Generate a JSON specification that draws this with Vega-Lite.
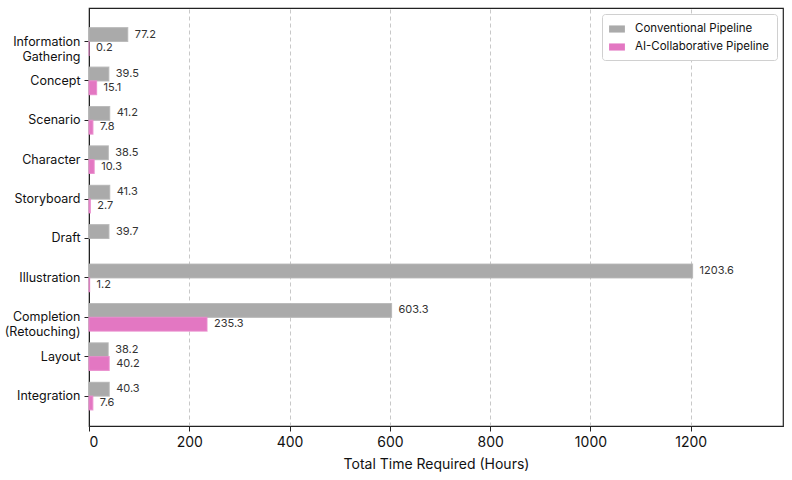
{
  "$schema": "https://vega.github.io/schema/vega-lite/v6.json",
  "width": 694,
  "height": 418,
  "autosize": {"type": "none"},
  "padding": {"left": 89, "top": 8, "right": 9, "bottom": 54},
  "background": "white",
  "config": {
    "font": "Inter",
    "view": {"stroke": "#222", "strokeWidth": 1.2},
    "axis": {"labelFont": "Inter", "titleFont": "Inter", "labelColor": "#111", "titleColor": "#111"}
  },
  "data": {
    "values": [
      {"stage": "Information|Gathering", "pipeline": "Conventional Pipeline", "hours": 77.2},
      {"stage": "Information|Gathering", "pipeline": "AI-Collaborative Pipeline", "hours": 0.2},
      {"stage": "Concept", "pipeline": "Conventional Pipeline", "hours": 39.5},
      {"stage": "Concept", "pipeline": "AI-Collaborative Pipeline", "hours": 15.1},
      {"stage": "Scenario", "pipeline": "Conventional Pipeline", "hours": 41.2},
      {"stage": "Scenario", "pipeline": "AI-Collaborative Pipeline", "hours": 7.8},
      {"stage": "Character", "pipeline": "Conventional Pipeline", "hours": 38.5},
      {"stage": "Character", "pipeline": "AI-Collaborative Pipeline", "hours": 10.3},
      {"stage": "Storyboard", "pipeline": "Conventional Pipeline", "hours": 41.3},
      {"stage": "Storyboard", "pipeline": "AI-Collaborative Pipeline", "hours": 2.7},
      {"stage": "Draft", "pipeline": "Conventional Pipeline", "hours": 39.7},
      {"stage": "Illustration", "pipeline": "Conventional Pipeline", "hours": 1203.6},
      {"stage": "Illustration", "pipeline": "AI-Collaborative Pipeline", "hours": 1.2},
      {"stage": "Completion|(Retouching)", "pipeline": "Conventional Pipeline", "hours": 603.3},
      {"stage": "Completion|(Retouching)", "pipeline": "AI-Collaborative Pipeline", "hours": 235.3},
      {"stage": "Layout", "pipeline": "Conventional Pipeline", "hours": 38.2},
      {"stage": "Layout", "pipeline": "AI-Collaborative Pipeline", "hours": 40.2},
      {"stage": "Integration", "pipeline": "Conventional Pipeline", "hours": 40.3},
      {"stage": "Integration", "pipeline": "AI-Collaborative Pipeline", "hours": 7.6}
    ]
  },
  "encoding": {
    "y": {
      "field": "stage",
      "type": "nominal",
      "sort": ["Information|Gathering", "Concept", "Scenario", "Character", "Storyboard", "Draft", "Illustration", "Completion|(Retouching)", "Layout", "Integration"],
      "scale": {"paddingInner": 0.3, "paddingOuter": 0.455, "align": 0.55},
      "axis": {
        "title": null,
        "labelExpr": "split(datum.label, '|')",
        "labelFontSize": 12.5,
        "labelLineHeight": 15,
        "labelPadding": 4,
        "tickSize": 5,
        "tickColor": "#222",
        "domainColor": "#222",
        "domain": true,
        "grid": false
      }
    },
    "yOffset": {
      "field": "pipeline",
      "type": "nominal",
      "sort": ["Conventional Pipeline", "AI-Collaborative Pipeline"],
      "scale": {"paddingInner": 0, "paddingOuter": 0}
    },
    "x": {
      "field": "hours",
      "type": "quantitative",
      "scale": {"domain": [0, 1384], "nice": false, "zero": true},
      "axis": {
        "title": "Total Time Required (Hours)",
        "titleFontSize": 14,
        "titleFontWeight": "normal",
        "titlePadding": 8,
        "values": [0, 200, 400, 600, 800, 1000, 1200],
        "format": "d",
        "labelFontSize": 14,
        "labelPadding": 4,
        "tickSize": 5,
        "tickColor": "#222",
        "domainColor": "#222",
        "grid": true,
        "gridDash": [4, 3],
        "gridColor": "#c8c8c8",
        "gridWidth": 1
      }
    }
  },
  "layer": [
    {
      "mark": {"type": "bar", "strokeWidth": 1.2, "strokeOpacity": 0.8},
      "encoding": {
        "color": {
          "field": "pipeline",
          "type": "nominal",
          "sort": ["Conventional Pipeline", "AI-Collaborative Pipeline"],
          "scale": {"domain": ["Conventional Pipeline", "AI-Collaborative Pipeline"], "range": ["#aaaaaa", "#e377c2"]},
          "legend": {
            "title": null,
            "orient": "top-right",
            "offset": 6,
            "fillColor": "white",
            "strokeColor": "#d0d0d0",
            "cornerRadius": 3,
            "padding": 7,
            "labelFontSize": 11.5,
            "labelColor": "#111",
            "symbolType": "M-1,-0.45L1,-0.45L1,0.45L-1,0.45Z",
            "symbolSize": 250,
            "symbolStrokeWidth": 0,
            "rowPadding": 4,
            "labelOffset": 10
          }
        },
        "stroke": {
          "field": "pipeline",
          "type": "nominal",
          "scale": {"domain": ["Conventional Pipeline", "AI-Collaborative Pipeline"], "range": ["#b4b4b4", "#e98acc"]},
          "legend": null
        }
      }
    },
    {
      "mark": {"type": "text", "align": "left", "baseline": "middle", "dx": 7, "fontSize": 11, "color": "#333"},
      "encoding": {
        "text": {"field": "hours", "type": "quantitative", "format": ".1f"}
      }
    }
  ]
}
